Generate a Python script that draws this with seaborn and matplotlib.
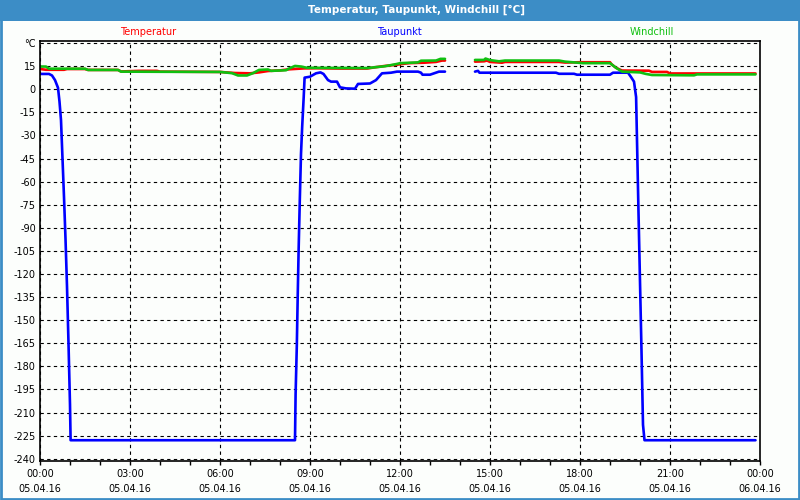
import numpy as np
import pandas as pd
import matplotlib
matplotlib.use("Agg")
import matplotlib.pyplot as plt
import matplotlib.dates as mdates
from matplotlib.patches import Rectangle
import seaborn as sns

# ---------------- data (hours after 05.04.16 00:00, value in °C) ----------------
temp_hours = [0.0, 0.2, 0.8, 0.9, 1.5, 1.6, 2.6, 2.7, 3.3, 3.9, 4.0, 6.0, 6.5, 7.0, 7.3,
              7.6, 8.0, 8.3, 8.8, 9.2, 10.0, 10.9, 11.2, 11.5, 11.9, 12.0, 12.3, 12.8,
              13.2, 13.4, 13.5, np.nan, 14.5, 14.8, 14.9, 15.0, 15.4, 15.5, 17.3, 17.5,
              18.0, 19.0, 19.05, 19.2, 19.4, 20.3, 20.4, 20.9, 21.0, 23.85]
temp_values = [13.2, 12.7, 12.7, 13.2, 13.2, 12.6, 12.6, 11.6, 12.0, 12.0, 11.5, 11.3, 10.6,
               10.4, 11.0, 11.9, 12.3, 13.0, 13.6, 13.7, 13.5, 13.5, 14.4, 15.2, 16.0, 16.3,
               17.0, 17.3, 17.8, 18.7, 18.7, np.nan, 18.0, 18.2, 18.7, 17.8, 17.3, 17.8,
               17.8, 17.4, 17.6, 17.6, 16.3, 14.0, 12.2, 12.1, 11.3, 11.3, 10.3, 10.3]

dew_hours = [0.0, 0.3, 0.4, 0.5, 0.6, 0.65, 0.7, 0.75, 0.8, 0.85, 0.9, 0.95, 1.0, 1.02,
             8.5, 8.52, 8.56, 8.59, 8.62, 8.66, 8.7, 8.74, 8.79, 8.82, 9.0, 9.2, 9.35,
             9.45, 9.6, 9.7, 9.9, 10.0, 10.2, 10.5, 10.6, 11.0, 11.2, 11.4, 11.7, 11.9,
             12.6, 12.7, 12.75, 13.0, 13.15, 13.3, 13.5, np.nan, 14.5, 14.6, 14.65, 17.2,
             17.3, 17.8, 17.9, 19.0, 19.1, 19.6, 19.7, 19.8, 19.87, 19.95, 20.05, 20.1,
             20.15, 23.85]
dew_values = [10.0, 10.0, 9.0, 6.0, 1.0, -8, -20, -45, -70, -97, -128, -165, -205, -228,
              -228, -198, -167, -135, -105, -72, -42, -24, -5, 7.6, 8.2, 10.4, 11.0,
              10.0, 6.0, 5.0, 5.0, 1.3, 0.6, 0.4, 3.5, 3.8, 6.0, 10.4, 10.8, 11.5,
              11.5, 10.8, 9.5, 9.5, 10.5, 11.5, 11.5, np.nan, 11.5, 12.0, 10.8, 10.8,
              10.1, 10.1, 9.5, 9.5, 10.8, 10.8, 8.0, 5.0, -5, -80, -170, -218,
              -228, -228]

wc_hours = [0.0, 0.2, 0.3, 1.5, 1.6, 2.6, 2.7, 4.0, 6.0, 6.4, 6.6, 6.9, 7.1, 7.3, 7.6,
            7.7, 8.2, 8.3, 8.5, 8.7, 8.9, 10.9, 11.5, 11.9, 12.0, 12.6, 12.7, 13.2, 13.35,
            13.5, np.nan, 14.5, 14.8, 14.85, 15.0, 15.3, 15.5, 17.3, 17.5, 18.1, 19.0,
            19.2, 19.4, 20.0, 20.2, 20.4, 21.8, 21.9, 23.85]
wc_values = [14.8, 14.8, 13.4, 13.4, 12.6, 12.6, 11.5, 11.4, 11.3, 10.5, 9.0, 9.0, 10.5,
             12.6, 12.9, 12.0, 12.4, 13.5, 15.2, 14.8, 14.0, 13.8, 15.0, 16.5, 17.0, 17.5,
             18.6, 18.7, 19.8, 19.8, np.nan, 19.1, 19.1, 20.0, 19.0, 18.2, 18.7, 18.7,
             18.0, 17.0, 17.0, 14.0, 11.5, 11.0, 10.0, 9.3, 9.1, 9.7, 9.7]

series_names = ["Temperatur", "Taupunkt", "Windchill"]
series_colors = ["#ff0000", "#0000ff", "#10c010"]
title_text = "Temperatur, Taupunkt, Windchill [°C]"
y_ticks = list(range(-240, 31, 15))
y_ticklabels = [str(v) for v in y_ticks[:-1]] + ["°C"]
start_time = pd.Timestamp("2016-04-05 00:00")
end_time = pd.Timestamp("2016-04-06 00:00")

# ---------------- build long-form frame, splitting at gaps ----------------
frames = []
for name, hrs, vals in zip(series_names,
                           [temp_hours, dew_hours, wc_hours],
                           [temp_values, dew_values, wc_values]):
    h = np.array(hrs, dtype=float)
    v = np.array(vals, dtype=float)
    seg = np.cumsum(np.isnan(h))
    ok = ~np.isnan(h)
    frames.append(pd.DataFrame({
        "time": start_time + pd.to_timedelta(h[ok], unit="h"),
        "value": v[ok],
        "series": name,
        "seg": seg[ok],
    }))
df = pd.concat(frames, ignore_index=True)

# ---------------- figure ----------------
sns.set_theme(style="white")
plt.rcParams["font.family"] = ["DejaVu Sans"]
bg = "#fcfefc"
fig = plt.figure(figsize=(8, 5), dpi=100, facecolor=bg)
ax = fig.add_axes([0.05, 0.078, 0.90, 0.84])
ax.set_facecolor(bg)

sns.lineplot(data=df, x="time", y="value", hue="series", units="seg", estimator=None,
             hue_order=series_names, palette=dict(zip(series_names, series_colors)),
             sort=False, linewidth=1.9, legend=False, ax=ax)

ax.set_xlim(start_time, end_time)
ax.set_ylim(-241.5, 31.4)
ax.set_yticks(y_ticks)
ax.set_yticklabels(y_ticklabels)
ax.xaxis.set_major_locator(mdates.HourLocator(byhour=range(0, 24, 3)))
ax.xaxis.set_minor_locator(mdates.HourLocator())
ax.xaxis.set_major_formatter(mdates.DateFormatter("%H:%M\n%d.%m.%y"))
ax.set_xlabel("")
ax.set_ylabel("")

ax.grid(True, which="major", color="black", linestyle=(0, (3, 3)), linewidth=0.8)
ax.set_axisbelow(True)
for s in ax.spines.values():
    s.set_color("black")
    s.set_linewidth(1.2)
ax.tick_params(axis="y", which="both", length=0, pad=3, labelsize=7, colors="black")
ax.tick_params(axis="x", which="both", direction="out", length=3, width=1, pad=3,
               labelsize=7, colors="black", bottom=True)
for lab in ax.get_xticklabels():
    lab.set_linespacing(1.6)

# title bar
fig.patches.append(Rectangle((0, 1 - 21 / 500), 1, 21 / 500, transform=fig.transFigure,
                             facecolor="#3c8dc6", edgecolor="none", zorder=0))
fig.text(416 / 800, 1 - 10 / 500, title_text, color="white", fontsize=7.5,
         fontweight="bold", ha="center", va="center")
# outer frame
fig.patches.append(Rectangle((0.0015, 0.002), 0.997, 0.99, transform=fig.transFigure,
                             facecolor="none", edgecolor="#3c8dc6", linewidth=2.0,
                             zorder=0))

# series labels
for name, col, xp in zip(series_names, series_colors, [148, 399, 652]):
    fig.text(xp / 800, 1 - 32 / 500, name, color=col, fontsize=7, ha="center",
             va="center")

fig.savefig("out.png", dpi=100, facecolor=bg)
